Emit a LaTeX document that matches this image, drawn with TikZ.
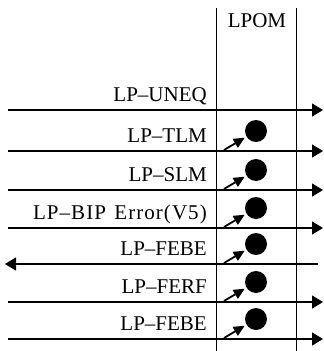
\documentclass[tikz,border=0pt]{standalone}
\usepackage{fontspec}
\setmainfont{Liberation Serif}
\usetikzlibrary{arrows.meta}

\tikzset{
  sig/.style={line width=1.3pt,-{Triangle[length=11pt,width=13pt]}},
  ptr/.style={line width=1.8pt,-{Triangle[length=11pt,width=10pt]},shorten >=2pt},
  defect/.style={circle,fill,inner sep=0pt,minimum size=22pt},
  lbl/.style={anchor=base east,inner sep=0pt,font=\fontsize{21}{25}\selectfont}
}

\begin{document}
\begin{tikzpicture}[x=1pt,y=-1pt]
 \useasboundingbox (0,0) rectangle (324,351);
 % LPOM column
 \coordinate (ta) at (216,8);  \coordinate (ba) at (216,351);
 \coordinate (tb) at (296,8);  \coordinate (bb) at (296,351);
 \draw[line width=0.8pt] (ta) -- (ba) (tb) -- (bb);
 \node[lbl,anchor=center] (lpom) at (257,21) {LPOM};
 % signal rows
 \foreach \i/\y/\txt in {1/110/{LP--UNEQ},2/151/{LP--TLM},3/190/{LP--SLM},
     4/228/{\addfontfeature{LetterSpace=5}LP--BIP\hspace{0.4em}Error(V5)},
     5/264/{LP--FEBE},6/302/{LP--FERF},7/339/{LP--FEBE}} {
   \coordinate (w\i) at (8,\y);
   \coordinate (e\i) at (323,\y);
   \node[lbl] (lab\i) at (207,\y-8.5) {\txt};
   \ifnum\i>1
     \node[defect] (d\i) at (256,\y-20) {};
     \coordinate (p\i) at (224,\y-1);
     \draw[ptr] (p\i) -- (d\i);
   \fi
 }
 \foreach \i in {1,2,3,4,6,7}
   \draw[sig] (w\i) -- (e\i);
 \coordinate (w5) at (5,264);
 \coordinate (e5) at (318,264);
 \draw[sig] (e5) -- (w5);
\end{tikzpicture}
\end{document}
